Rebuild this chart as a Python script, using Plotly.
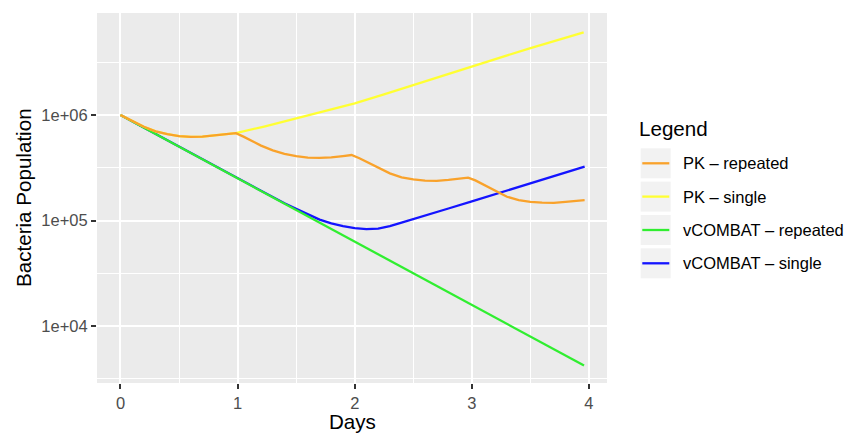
import plotly.graph_objects as go

# ---- data ----
series_names = ["PK \u2013 repeated", "PK \u2013 single", "vCOMBAT \u2013 repeated", "vCOMBAT \u2013 single"]
series_colors = ["#F9A22B", "#FFFF33", "#30EE30", "#1414FF"]

days_pk_repeated = [0, 0.1, 0.2, 0.3, 0.4, 0.5, 0.6, 0.7, 0.8, 0.9, 0.985,
                    1.05, 1.1, 1.2, 1.3, 1.4, 1.5, 1.6, 1.7, 1.8, 1.9, 1.973,
                    2.04, 2.1, 2.2, 2.3, 2.4, 2.5, 2.6, 2.7, 2.8, 2.9, 2.968,
                    3.03, 3.1, 3.2, 3.3, 3.4, 3.5, 3.6, 3.7, 3.8, 3.9, 3.963]
pk_repeated = [1.0e6, 8.77e5, 7.73e5, 7.01e5, 6.58e5, 6.31e5, 6.22e5, 6.25e5, 6.38e5, 6.58e5, 6.73e5,
               6.24e5, 5.82e5, 5.13e5, 4.62e5, 4.29e5, 4.07e5, 3.95e5, 3.92e5, 3.96e5, 4.08e5, 4.18e5,
               3.89e5, 3.60e5, 3.16e5, 2.80e5, 2.57e5, 2.45e5, 2.39e5, 2.38e5, 2.43e5, 2.49e5, 2.55e5,
               2.40e5, 2.19e5, 1.91e5, 1.68e5, 1.56e5, 1.50e5, 1.48e5, 1.47e5, 1.50e5, 1.54e5, 1.56e5]

days_pk_single = [0, 0.1, 0.2, 0.3, 0.4, 0.5, 0.6, 0.7, 0.8, 0.9, 0.985,
                  1.218, 1.503, 1.75, 2.0, 2.25, 2.498, 2.997, 3.494, 3.955]
pk_single = [1.0e6, 8.77e5, 7.73e5, 7.01e5, 6.58e5, 6.31e5, 6.22e5, 6.25e5, 6.38e5, 6.58e5, 6.73e5,
             7.74e5, 9.31e5, 1.09e6, 1.29e6, 1.57e6, 1.92e6, 2.91e6, 4.29e6, 6.08e6]

days_vcombat_repeated = [0, 0.5, 1, 1.5, 2, 2.5, 3, 3.5, 3.958]
vcombat_repeated = [1.0e6, 5.01e5, 2.51e5, 1.26e5, 6.31e4, 3.16e4, 1.585e4, 7.94e3, 4.22e3]

days_vcombat_single = [0, 0.5, 1.0, 1.2, 1.3, 1.4, 1.5, 1.6, 1.7, 1.8, 1.9, 2.0, 2.1, 2.2,
                       2.3, 2.4, 2.5, 2.6, 2.8, 3.0, 3.2, 3.4, 3.6, 3.8, 3.963]
vcombat_single = [1.0e6, 5.01e5, 2.51e5, 1.905e5, 1.66e5, 1.455e5, 1.29e5, 1.15e5, 1.02e5, 9.38e4,
                  8.83e4, 8.47e4, 8.3e4, 8.39e4, 8.87e4, 9.55e4, 1.028e5, 1.11e5, 1.30e5, 1.52e5,
                  1.78e5, 2.08e5, 2.43e5, 2.85e5, 3.24e5]

x_ticks = [0, 1, 2, 3, 4]
x_minor = [0.5, 1.5, 2.5, 3.5]
y_ticks = [1e4, 1e5, 1e6]
y_ticktext = ["1e+04", "1e+05", "1e+06"]
y_minor = [10 ** 3.5, 10 ** 4.5, 10 ** 5.5, 10 ** 6.5]
x_title = "Days"
y_title = "Bacteria Population"
legend_title = "Legend"

xs = [days_pk_repeated, days_pk_single, days_vcombat_repeated, days_vcombat_single]
ys = [pk_repeated, pk_single, vcombat_repeated, vcombat_single]

# ---- figure ----
W, H = 852, 433
L, R, T, B = 97, 245, 13, 50
FONT = "Liberation Sans, Arial, Helvetica, sans-serif"

fig = go.Figure()
draw_order = [3, 2, 1, 0]
for i in draw_order:
    fig.add_trace(go.Scatter(x=xs[i], y=ys[i], mode="lines", name=series_names[i],
                             line=dict(color=series_colors[i], width=2.3), showlegend=False))

fig.update_layout(
    width=W, height=H,
    margin=dict(l=L, r=R, t=T, b=B, autoexpand=False),
    paper_bgcolor="white", plot_bgcolor="#EBEBEB",
    font=dict(family=FONT, size=16.5, color="#4D4D4D"),
    showlegend=False,
)
fig.update_xaxes(
    range=[-0.2005, 4.154], tickvals=x_ticks, ticktext=[str(v) for v in x_ticks],
    showgrid=True, gridcolor="white", gridwidth=2, zeroline=False, showline=False,
    ticks="outside", ticklen=5, tickwidth=2, tickcolor="#333333",
    tickfont=dict(size=16.5, color="#4D4D4D"), automargin=False,
    minor=dict(tickvals=x_minor, showgrid=True, gridcolor="white", gridwidth=1),
)
fig.update_yaxes(
    type="log", range=[3.46, 6.967], tickvals=y_ticks, ticktext=y_ticktext,
    showgrid=True, gridcolor="white", gridwidth=2, zeroline=False, showline=False,
    ticks="outside", ticklen=5, tickwidth=2, tickcolor="#333333",
    tickfont=dict(size=16.5, color="#4D4D4D"), automargin=False,
    minor=dict(tickvals=y_minor, showgrid=True, gridcolor="white", gridwidth=1),
)

pw, ph = W - L - R, H - T - B


def px2x(px):
    return (px - L) / pw


def px2y(py):
    return (H - B - py) / ph


# axis titles
fig.add_annotation(text=x_title, xref="paper", yref="paper", x=px2x(352), y=px2y(421),
                   xanchor="center", yanchor="middle", showarrow=False,
                   font=dict(size=20.6, color="black", family=FONT))
fig.add_annotation(text=y_title, xref="paper", yref="paper", x=px2x(23), y=px2y(198),
                   xanchor="center", yanchor="middle", showarrow=False, textangle=-90,
                   font=dict(size=20.6, color="black", family=FONT))

# ---- ggplot-style legend ----
fig.add_annotation(text=legend_title, xref="paper", yref="paper", x=px2x(637), y=px2y(128),
                   xanchor="left", yanchor="middle", showarrow=False,
                   font=dict(size=20.6, color="black", family=FONT))
row_centers = [163.3, 196.6, 230.0, 263.3]
for name, color, cy in zip(series_names, series_colors, row_centers):
    fig.add_shape(type="rect", xref="paper", yref="paper",
                  x0=px2x(640.7), x1=px2x(670.7), y0=px2y(cy - 15), y1=px2y(cy + 15),
                  fillcolor="#F2F2F2", line=dict(width=0))
    fig.add_shape(type="line", xref="paper", yref="paper",
                  x0=px2x(642.3), x1=px2x(669.3), y0=px2y(cy), y1=px2y(cy),
                  line=dict(color=color, width=2.3))
    fig.add_annotation(text=name, xref="paper", yref="paper", x=px2x(681), y=px2y(cy),
                       xanchor="left", yanchor="middle", showarrow=False,
                       font=dict(size=16.5, color="black", family=FONT))

fig.write_html(
    "out.html",
    config={"displayModeBar": False, "staticPlot": True},
    post_script="document.body.style.margin='0';document.body.style.padding='0';"
                "document.documentElement.style.overflow='hidden';",
)
